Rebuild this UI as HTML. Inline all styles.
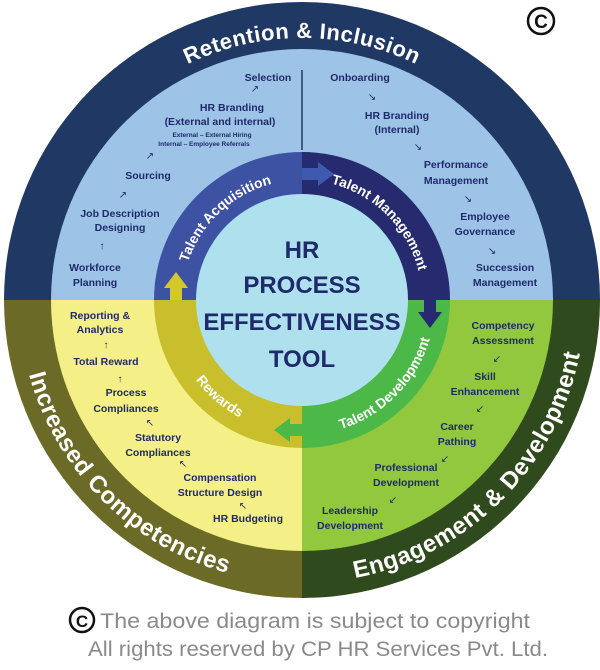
<!DOCTYPE html>
<html><head><meta charset="utf-8"><style>
html,body{margin:0;padding:0;background:#fff;width:600px;height:670px;overflow:hidden}
svg text{font-family:"Liberation Sans",sans-serif;font-weight:bold}
.q{fill:#1f2a6b;font-size:10.5px;text-anchor:middle}
.s{fill:#1f2a6b;font-size:6.5px;text-anchor:middle}
.a{fill:#1f2a6b;font-size:10px;text-anchor:middle;font-weight:normal}
.o{fill:#fff;font-size:24px;letter-spacing:0.5px}
.m{fill:#fff;font-size:14px}
</style></head><body>
<svg width="600" height="670" viewBox="0 0 600 670" xmlns="http://www.w3.org/2000/svg">
<defs>
<path id="oTop" d="M 40 300 A 262 262 0 0 1 564 300"/>
<path id="oBL" d="M 19 300 A 283 283 0 0 0 302 583"/>
<path id="oBR" d="M 302 583 A 283 283 0 0 0 585 300"/>
<path id="mTL" d="M 182 300 A 120 120 0 0 1 302 180"/>
<path id="mTR" d="M 302 180 A 120 120 0 0 1 422 300"/>
<path id="mBR" d="M 302 435 A 133 133 0 0 0 435 300"/>
<path id="mBL" d="M 169 300 A 133 133 0 0 0 302 433"/>
</defs>
<path d="M302 300 L4 300 A298 298 0 0 1 302 2 Z" fill="#1f3864"/>
<path d="M302 300 L302 2 A298 298 0 0 1 600 300 Z" fill="#1f3864"/>
<path d="M302 300 L4 300 A298 298 0 0 0 302 598 Z" fill="#6b6a27"/>
<path d="M302 300 L302 598 A298 298 0 0 0 600 300 Z" fill="#2f4a1c"/>
<path d="M302 300 L51 300 A251 251 0 0 1 302 49 Z" fill="#9dc3e6"/>
<path d="M302 300 L302 49 A251 251 0 0 1 553 300 Z" fill="#9dc3e6"/>
<path d="M302 300 L51 300 A251 251 0 0 0 302 551 Z" fill="#f4ef86"/>
<path d="M302 300 L302 551 A251 251 0 0 0 553 300 Z" fill="#92c83e"/>
<line x1="302" y1="70" x2="302" y2="150" stroke="#1f3864" stroke-width="1.5"/>
<path d="M302 300 L154 300 A148 148 0 0 1 302 152 Z" fill="#3e52a3"/>
<path d="M302 300 L302 152 A148 148 0 0 1 450 300 Z" fill="#262a6e"/>
<path d="M302 300 L154 300 A148 148 0 0 0 302 448 Z" fill="#c9bf2c"/>
<path d="M302 300 L302 448 A148 148 0 0 0 450 300 Z" fill="#4cb848"/>
<circle cx="302" cy="300" r="106" fill="#aee0ee"/>
<polygon points="302,168 318,168 318,162 334,174 318,186 318,180 302,180" fill="#3e5ab0"/>
<polygon points="424,300 436,300 436,312 442,312 430,328 418,312 424,312" fill="#262a6e"/>
<polygon points="302,424 302,436 290,436 290,442 274,430 290,418 290,424" fill="#4cb848"/>
<polygon points="170,300 182,300 182,288 188,288 176,272 164,288 170,288" fill="#d4c82a"/>
<text x="302" y="258" text-anchor="middle" fill="#1f2a6b" font-size="24">HR</text>
<text x="302" y="293" text-anchor="middle" fill="#1f2a6b" font-size="24">PROCESS</text>
<text x="302" y="330" text-anchor="middle" fill="#1f2a6b" font-size="24">EFFECTIVENESS</text>
<text x="302" y="367" text-anchor="middle" fill="#1f2a6b" font-size="24">TOOL</text>
<text class="o" style="font-size:22px"><textPath href="#oTop" startOffset="50%" text-anchor="middle">Retention &amp; Inclusion</textPath></text>
<text class="o"><textPath href="#oBL" startOffset="50%" text-anchor="middle">Increased Competencies</textPath></text>
<text class="o"><textPath href="#oBR" startOffset="50%" text-anchor="middle">Engagement &amp; Development</textPath></text>
<text class="m"><textPath href="#mTL" startOffset="52%" text-anchor="middle">Talent Acquisition</textPath></text>
<text class="m"><textPath href="#mTR" startOffset="50%" text-anchor="middle">Talent Management</textPath></text>
<text class="m"><textPath href="#mBR" startOffset="50%" text-anchor="middle">Talent Development</textPath></text>
<text class="m"><textPath href="#mBL" startOffset="55%" text-anchor="middle">Rewards</textPath></text>
<text class="q" x="268" y="81">Selection</text>
<text class="a" x="255" y="92">↗</text>
<text class="q" x="232" y="111">HR Branding</text>
<text class="q" x="220" y="125">(External and internal)</text>
<text class="s" x="212" y="137">External – External Hiring</text>
<text class="s" x="204" y="146">Internal – Employee Referrals</text>
<text class="a" x="150" y="159">↗</text>
<text class="q" x="148" y="179">Sourcing</text>
<text class="a" x="123" y="198">↗</text>
<text class="q" x="120" y="217">Job Description</text>
<text class="q" x="120" y="231">Designing</text>
<text class="a" x="102" y="249">↑</text>
<text class="q" x="95" y="271">Workforce</text>
<text class="q" x="95" y="286">Planning</text>
<text class="q" x="360" y="81">Onboarding</text>
<text class="a" x="372" y="100">↘</text>
<text class="q" x="397" y="119">HR Branding</text>
<text class="q" x="397" y="133">(Internal)</text>
<text class="a" x="418" y="150">↘</text>
<text class="q" x="456" y="168">Performance</text>
<text class="q" x="456" y="184">Management</text>
<text class="a" x="468" y="202">↘</text>
<text class="q" x="485" y="220">Employee</text>
<text class="q" x="485" y="235">Governance</text>
<text class="a" x="492" y="254">↘</text>
<text class="q" x="505" y="271">Succession</text>
<text class="q" x="505" y="286">Management</text>
<text class="q" x="503" y="329">Competency</text>
<text class="q" x="503" y="344">Assessment</text>
<text class="a" x="497" y="362">↙</text>
<text class="q" x="485" y="380">Skill</text>
<text class="q" x="485" y="395">Enhancement</text>
<text class="a" x="480" y="412">↙</text>
<text class="q" x="457" y="430">Career</text>
<text class="q" x="457" y="445">Pathing</text>
<text class="a" x="445" y="462">↙</text>
<text class="q" x="406" y="471">Professional</text>
<text class="q" x="406" y="486">Development</text>
<text class="a" x="393" y="503">↙</text>
<text class="q" x="350" y="514">Leadership</text>
<text class="q" x="350" y="529">Development</text>
<text class="q" x="100" y="319">Reporting &amp;</text>
<text class="q" x="100" y="333">Analytics</text>
<text class="a" x="106" y="348">↑</text>
<text class="q" x="106" y="365">Total Reward</text>
<text class="a" x="120" y="382">↑</text>
<text class="q" x="126" y="396">Process</text>
<text class="q" x="126" y="412">Compliances</text>
<text class="a" x="150" y="426">↖</text>
<text class="q" x="158" y="441">Statutory</text>
<text class="q" x="158" y="456">Compliances</text>
<text class="a" x="183" y="467">↖</text>
<text class="q" x="220" y="481">Compensation</text>
<text class="q" x="220" y="496">Structure Design</text>
<text class="a" x="243" y="509">↖</text>
<text class="q" x="248" y="522">HR Budgeting</text>
<circle cx="541" cy="21" r="13" fill="none" stroke="#111" stroke-width="2.5"/>
<text x="541" y="28" text-anchor="middle" font-size="19" fill="#111">C</text>
<circle cx="82" cy="620" r="12" fill="none" stroke="#111" stroke-width="2.5"/>
<text x="82" y="627" text-anchor="middle" font-size="17" fill="#111">C</text>
<text x="100" y="628" font-size="21" fill="#8a8a8a" style="font-weight:normal" textLength="430" lengthAdjust="spacingAndGlyphs">The above diagram is subject to copyright</text>
<text x="88" y="656" font-size="21" fill="#8a8a8a" style="font-weight:normal" textLength="460" lengthAdjust="spacingAndGlyphs">All rights reserved by CP HR Services Pvt. Ltd.</text>
</svg>
</body></html>
